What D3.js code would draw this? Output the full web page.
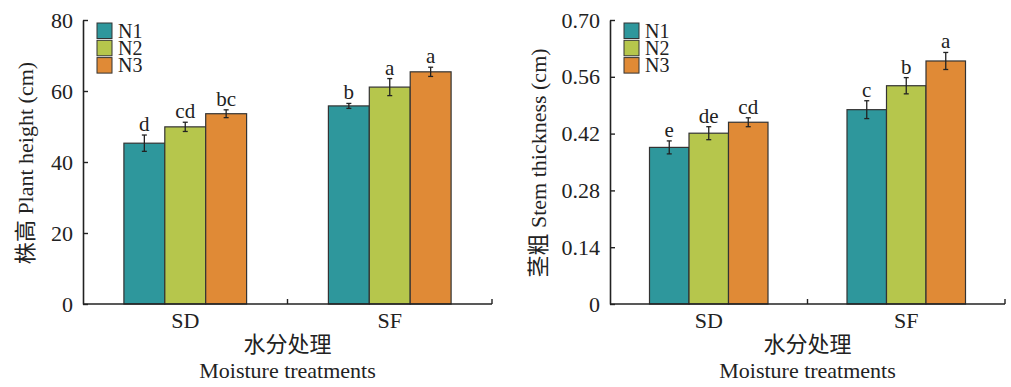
<!DOCTYPE html>
<html>
<head>
<meta charset="utf-8">
<script src="https://cdn.jsdelivr.net/npm/d3@7"></script>
<style>
  body { margin: 0; background: #fff; }
  svg text { font-family: "Liberation Serif", "DejaVu Serif", "Noto Sans CJK SC", serif !important; fill: #222; }
</style>
</head>
<body>
<div class="chart"></div>
<script>
// data
var treatments = ["SD", "SF"];
var nitrogen = ["N1", "N2", "N3"];
var colors = ["#2e979c", "#b6c64c", "#e08a36"];

// plant height (cm): rows = treatment, cols = N level
var heightMeans = [[45.3, 49.9, 53.6], [55.8, 61.1, 65.4]];
var heightErrs = [[2.3, 1.3, 1.1], [0.7, 2.4, 1.3]];
var heightLetters = [["d", "cd", "bc"], ["b", "a", "a"]];
var heightTicks = [0, 20, 40, 60, 80];

// stem thickness (cm)
var stemMeans = [[0.386, 0.421, 0.448], [0.479, 0.538, 0.599]];
var stemErrs = [[0.016, 0.016, 0.011], [0.022, 0.02, 0.021]];
var stemLetters = [["e", "de", "cd"], ["c", "b", "a"]];
var stemTicks = [0, 0.14, 0.28, 0.42, 0.56, 0.70];

var svg = d3.select(".chart")
  .append("svg")
  .attr("width", 1011)
  .attr("height", 387);

// draw one panel
function drawPanel(opts) {
  var x0 = opts.left, x1 = opts.right, yTop = 20, yBot = 304;
  var g = svg.append("g");

  var xBand = d3.scaleBand().domain(treatments).range([x0, x1]).padding(0);
  var xInner = d3.scaleBand().domain(nitrogen)
    .range([xBand.bandwidth() * 0.2, xBand.bandwidth() * 0.8]).padding(0);
  var y = d3.scaleLinear().domain([0, d3.max(opts.ticks)]).range([yBot, yTop]);

  // bars
  treatments.forEach(function(t, i) {
    nitrogen.forEach(function(n, j) {
      var bx = xBand(t) + xInner(n);
      var v = opts.means[i][j], e = opts.errs[i][j];
      g.append("rect")
        .attr("x", bx)
        .attr("y", y(v))
        .attr("width", xInner.bandwidth())
        .attr("height", yBot - y(v))
        .attr("fill", colors[j])
        .attr("stroke", "#333")
        .attr("stroke-width", 1.2);

      var cx = bx + xInner.bandwidth() / 2;
      g.append("line")
        .attr("x1", cx).attr("x2", cx)
        .attr("y1", y(v + e)).attr("y2", y(v - e))
        .attr("stroke", "#222").attr("stroke-width", 1.3);
      [v + e, v - e].forEach(function(w) {
        g.append("line")
          .attr("x1", cx - 2.5).attr("x2", cx + 2.5)
          .attr("y1", y(w)).attr("y2", y(w))
          .attr("stroke", "#222").attr("stroke-width", 1.3);
      });
      g.append("text")
        .attr("x", cx)
        .attr("y", y(v + e) - 4)
        .attr("text-anchor", "middle")
        .style("font-size", "21px")
        .text(opts.letters[i][j]);
    });
  });

  // y axis
  var yAxis = d3.axisLeft(y).tickValues(opts.ticks)
    .tickFormat(opts.fmt).tickSizeInner(-5).tickSizeOuter(0).tickPadding(10);
  var ya = g.append("g").attr("transform", "translate(" + x0 + ",0)").call(yAxis);
  ya.attr("font-family", null);
  ya.select(".domain").attr("stroke", "#222").attr("stroke-width", 1.6);
  ya.selectAll(".tick line").attr("stroke", "#222").attr("stroke-width", 1.4);
  ya.selectAll(".tick text").style("font-size", "22px").attr("fill", "#222");

  // x axis
  var xa = g.append("g").attr("transform", "translate(0," + yBot + ")");
  xa.append("line").attr("x1", x0).attr("x2", x1)
    .attr("stroke", "#222").attr("stroke-width", 1.6);
  [x0 + xBand.bandwidth(), x1].forEach(function(tx) {
    xa.append("line").attr("x1", tx).attr("x2", tx).attr("y1", 0).attr("y2", -5)
      .attr("stroke", "#222").attr("stroke-width", 1.4);
  });
  treatments.forEach(function(t) {
    xa.append("text")
      .attr("x", xBand(t) + xBand.bandwidth() / 2)
      .attr("y", 24)
      .attr("text-anchor", "middle")
      .style("font-size", "22px")
      .text(t);
  });

  var mid = (x0 + x1) / 2;
  g.append("text").attr("x", mid).attr("y", 352).attr("text-anchor", "middle")
    .style("font-size", "22px").text("水分处理");
  g.append("text").attr("x", mid).attr("y", 378).attr("text-anchor", "middle")
    .style("font-size", "22px").text("Moisture treatments");

  g.append("text")
    .attr("transform", "translate(" + opts.labelX + ",163) rotate(-90)")
    .attr("text-anchor", "middle")
    .style("font-size", "22px")
    .text(opts.label);

  // legend
  var lg = g.append("g").attr("transform", "translate(" + (x0 + opts.legendDx) + ",23)");
  nitrogen.forEach(function(n, j) {
    lg.append("rect")
      .attr("x", 0).attr("y", j * 17.3)
      .attr("width", 15).attr("height", 15.5)
      .attr("fill", colors[j]).attr("stroke", "#333").attr("stroke-width", 1);
    lg.append("text")
      .attr("x", 21).attr("y", j * 17.3 + 14.5)
      .style("font-size", "20px")
      .text(n);
  });
}

drawPanel({
  left: 83, right: 492, ticks: heightTicks, fmt: d3.format("d"),
  means: heightMeans, errs: heightErrs, letters: heightLetters,
  label: "株高 Plant height (cm)", labelX: 33, legendDx: 14
});

drawPanel({
  left: 610, right: 1005, ticks: stemTicks,
  fmt: function(d) { return d === 0 ? "0" : d3.format(".2f")(d); },
  means: stemMeans, errs: stemErrs, letters: stemLetters,
  label: "茎粗 Stem thickness (cm)", labelX: 546, legendDx: 14
});
</script>
</body>
</html>
